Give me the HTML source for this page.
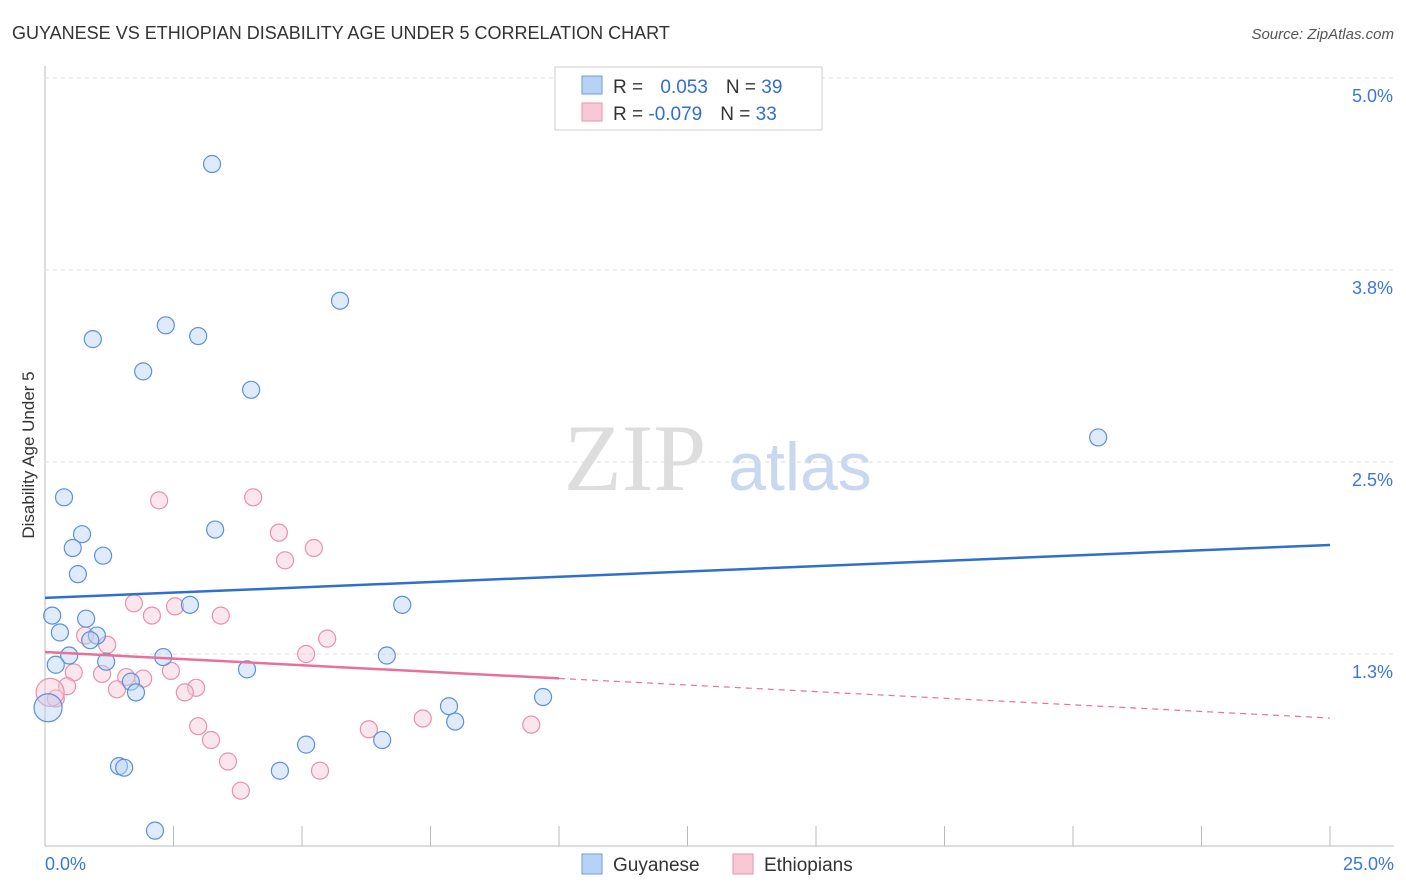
<!DOCTYPE html>
<html><head><meta charset="utf-8"><style>
body{margin:0;background:#fff;font-family:"Liberation Sans",sans-serif;}
svg{display:block}
</style></head><body>
<svg id="chart" width="1406" height="892">
<text x="12" y="39" font-size="18" fill="#333">GUYANESE VS ETHIOPIAN DISABILITY AGE UNDER 5 CORRELATION CHART</text>
<text x="1394" y="39" font-size="15" fill="#555" font-style="italic" text-anchor="end">Source: ZipAtlas.com</text>
<text x="34" y="455" font-size="17" fill="#333" transform="rotate(-90 34 455)" text-anchor="middle">Disability Age Under 5</text>
<text x="635" y="490" font-size="95" fill="#ddd" font-family="Liberation Serif,serif" text-anchor="middle">ZIP</text>
<text x="800" y="490" font-size="68" fill="#c8d8f0" text-anchor="middle">atlas</text>
<g id="grid"></g><g id="marks"></g>
<g>
<rect x="555" y="67" width="267" height="63" fill="#fff" stroke="#ccc"/>
<rect x="582" y="76" width="20" height="18" fill="#b8d2f5" stroke="#6a9ee0"/>
<rect x="582" y="103" width="20" height="18" fill="#f8c8d6" stroke="#e890ab"/>
<text x="613" y="93" font-size="19" fill="#333">R = <tspan fill="#2f6fd0" dx="12">0.053</tspan><tspan dx="18" fill="#333">N = </tspan><tspan fill="#2f6fd0">39</tspan></text>
<text x="613" y="120" font-size="19" fill="#333">R = <tspan fill="#2f6fd0">-0.079</tspan><tspan dx="18" fill="#333">N = </tspan><tspan fill="#2f6fd0">33</tspan></text>
</g>
<g>
<rect x="582" y="854" width="20" height="20" fill="#b8d2f5" stroke="#6a9ee0"/>
<text x="613" y="871" font-size="19" fill="#333">Guyanese</text>
<rect x="733" y="854" width="20" height="20" fill="#f8c8d6" stroke="#e890ab"/>
<text x="764" y="871" font-size="19" fill="#333">Ethiopians</text>
</g>
</svg>
<script>
const xTicksMinor=[0,2.5,5,7.5,10,12.5,15,17.5,20,22.5,25];
const yTicks=[1.25,2.5,3.75,5.0];
const yTickLabels=["1.3%","2.5%","3.8%","5.0%"];
const xLabels=["0.0%","25.0%"];
const guyX=[3.25,5.74,2.35,0.93,2.98,1.91,4.01,20.49,0.37,0.72,3.31,0.54,1.13,0.64,0.14,0.80,2.82,6.95,0.29,1.01,0.88,0.47,0.21,1.19,2.30,6.65,3.93,1.67,1.77,9.69,7.86,7.98,0.06,5.08,6.56,1.44,1.54,4.57,2.14];
const guyY=[4.44,3.55,3.39,3.30,3.32,3.09,2.97,2.66,2.27,2.03,2.06,1.94,1.89,1.77,1.50,1.48,1.57,1.57,1.39,1.37,1.34,1.24,1.18,1.20,1.23,1.24,1.15,1.07,1.00,0.97,0.91,0.81,0.90,0.66,0.69,0.52,0.51,0.49,0.10];
const ethX=[2.22,4.05,4.55,5.23,4.67,1.73,2.53,2.08,3.42,0.78,1.21,5.49,5.08,0.56,1.11,1.58,1.91,2.45,0.43,1.40,2.94,2.72,0.21,0.10,2.98,3.23,7.35,6.30,9.46,3.56,5.35,3.81];
const ethY=[2.25,2.27,2.04,1.94,1.86,1.58,1.56,1.50,1.50,1.37,1.31,1.35,1.25,1.13,1.12,1.10,1.09,1.14,1.04,1.02,1.03,1.00,0.96,1.00,0.78,0.69,0.83,0.76,0.79,0.55,0.49,0.36];
const guyTrend=[1.615,1.96];
const ethTrend=[1.263,0.833];
const ethSolidEnd=10;
const X=v=>45+v/25*1285, Y=v=>846-v*153.6;
const NS="http://www.w3.org/2000/svg";
const grid=document.getElementById('grid'), marks=document.getElementById('marks');
function mk(p,tag,a){const e=document.createElementNS(NS,tag);for(const k in a)e.setAttribute(k,a[k]);p.appendChild(e);return e;}
let ax=mk(grid,'line',{x1:45,y1:66,x2:45,y2:846,stroke:'#bbb'});


let bx=mk(grid,'line',{x1:45,y1:846,x2:1394,y2:846,stroke:'#bbb'});


xTicksMinor.forEach(t=>{let l=mk(grid,'line',{x1:X(t),y1:826,x2:X(t),y2:846,stroke:'#bbb'});

});
yTicks.forEach((t,i)=>{let l=mk(grid,'line',{x1:45,y1:Y(t),x2:1394,y2:Y(t),stroke:'#ddd','stroke-dasharray':'4,4'});


let tx=mk(grid,'text',{x:1393,y:Y(t)+24,'font-size':18,fill:'#3a78d8','text-anchor':'end'});tx.textContent=yTickLabels[i];

});
[[0,'start',45],[25,'end',1394]].forEach((d,i)=>{let tx=mk(grid,'text',{x:d[2],y:870,'font-size':18,fill:'#3a78d8','text-anchor':d[1]});tx.textContent=xLabels[i];

});
function dots(xs,ys,fill,stroke,name){xs.forEach((x,i)=>{let big=x<0.12;let c=mk(marks,'circle',{cx:X(x),cy:Y(ys[i]),r:big?14:8.5,fill:fill,'fill-opacity':0.45,stroke:stroke,'stroke-width':1.2});

});}
dots(ethX,ethY,'#f8c8d6','#e890ab','ethiopians-point');
dots(guyX,guyY,'#b8d2f5','#5a90dc','guyanese-point');
let gl=mk(marks,'line',{x1:X(0),y1:Y(guyTrend[0]),x2:X(25),y2:Y(guyTrend[1]),stroke:'#2f6fd0','stroke-width':2.5});


const em=ethTrend[0]+(ethTrend[1]-ethTrend[0])*ethSolidEnd/25;
let el1=mk(marks,'line',{x1:X(0),y1:Y(ethTrend[0]),x2:X(ethSolidEnd),y2:Y(em),stroke:'#e8709a','stroke-width':2.5});


let el2=mk(marks,'line',{x1:X(ethSolidEnd),y1:Y(em),x2:X(25),y2:Y(ethTrend[1]),stroke:'#e8709a','stroke-width':1.2,'stroke-dasharray':'6,5'});


</script>
</body></html>
